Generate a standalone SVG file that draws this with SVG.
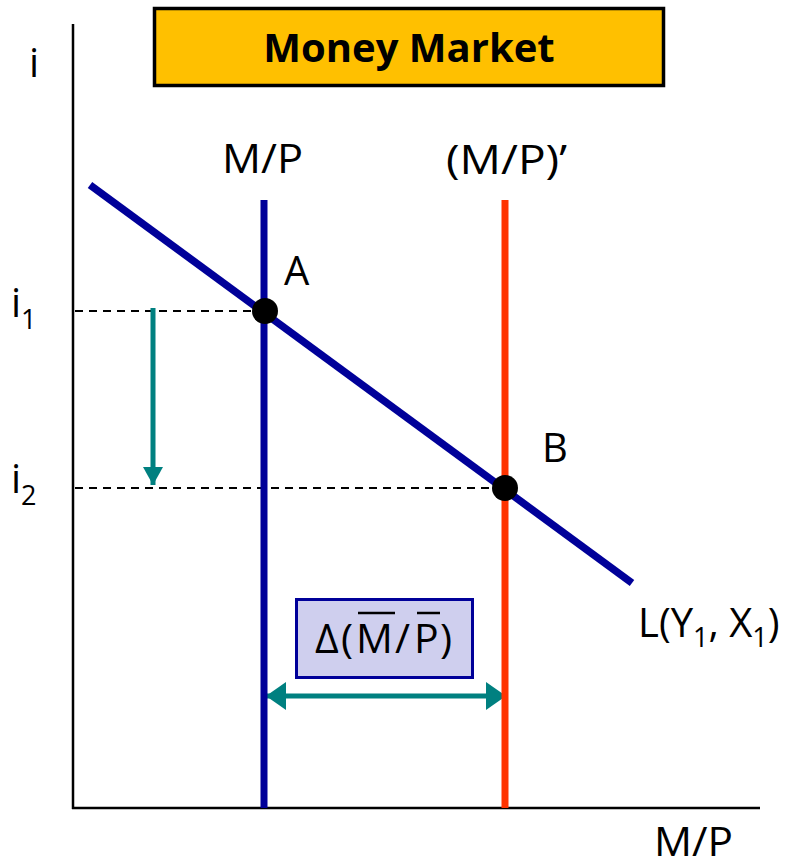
<svg xmlns="http://www.w3.org/2000/svg" width="790" height="868" viewBox="0 0 790 868">
<style>
.t{font-family:"Open Sans","Liberation Sans",sans-serif;font-size:40px;fill:#000}
.sub{font-size:27px}
.axis{stroke:#000;stroke-width:2.5;fill:none}
.dash{stroke:#000;stroke-width:2.2;stroke-dasharray:8 6;fill:none}
.teal{stroke:#008080;stroke-width:5;fill:none}
.ovl{stroke:#000;stroke-width:2.5}
</style>
<defs>
<marker id="ah" viewBox="0 0 20 28" refX="20" refY="14" markerWidth="20" markerHeight="28" markerUnits="userSpaceOnUse" orient="auto-start-reverse">
<path d="M0,0 L20,14 L0,28 Z" fill="#008080"/>
</marker>
<marker id="ahs" viewBox="0 0 18 20" refX="18" refY="10" markerWidth="18" markerHeight="20" markerUnits="userSpaceOnUse" orient="auto">
<path d="M0,0 L18,10 L0,20 Z" fill="#008080"/>
</marker>
</defs>
<rect width="790" height="868" fill="#fff"/>
<g id="title">
<rect x="154.5" y="8.5" width="509" height="77" fill="#FFC000" stroke="#000" stroke-width="3.5"/>
<text x="409" y="62" text-anchor="middle" class="t" style="font-weight:bold;font-size:40px">Money Market</text>
</g>
<g id="axes">
<line class="axis" x1="73" y1="24" x2="73" y2="809"/>
<line class="axis" x1="72" y1="808" x2="760" y2="808"/>
<text class="t" x="29" y="77">i</text>
<text class="t" x="654" y="856" textLength="79" lengthAdjust="spacingAndGlyphs">M/P</text>
<text class="t" x="11" y="317">i<tspan class="sub" dy="12">1</tspan></text>
<text class="t" x="11" y="493">i<tspan class="sub" dy="12">2</tspan></text>
</g>
<g id="connectors">
<line class="dash" x1="75" y1="311" x2="262" y2="311"/>
<line class="dash" x1="75" y1="488" x2="503" y2="488"/>
<line class="teal" x1="153" y1="308" x2="153" y2="485" marker-end="url(#ahs)"/>
<line class="teal" x1="266" y1="696" x2="506" y2="696" marker-start="url(#ah)" marker-end="url(#ah)"/>
</g>
<g id="supply1">
<line x1="264" y1="200" x2="264" y2="808" stroke="#000099" stroke-width="7"/>
<text class="t" x="222" y="173" textLength="81" lengthAdjust="spacingAndGlyphs">M/P</text>
</g>
<g id="supply2">
<line x1="505" y1="200" x2="505" y2="808" stroke="#FF3300" stroke-width="7"/>
<text class="t" x="446" y="174" textLength="121" lengthAdjust="spacingAndGlyphs">(M/P)’</text>
</g>
<g id="demand">
<line x1="90" y1="185" x2="632" y2="583" stroke="#000099" stroke-width="7.5"/>
<text class="t" x="638" y="637">L(Y<tspan class="sub" dy="10">1</tspan><tspan dy="-10">, X</tspan><tspan class="sub" dy="10">1</tspan><tspan dy="-10">)</tspan></text>
</g>
<g id="pointA">
<circle cx="265" cy="311" r="13" fill="#000"/>
<text class="t" x="284" y="285">A</text>
</g>
<g id="pointB">
<circle cx="505" cy="488" r="13" fill="#000"/>
<text class="t" x="542" y="462">B</text>
</g>
<g id="delta">
<rect x="296.5" y="599.5" width="176" height="78" fill="#CFCFEE" stroke="#000099" stroke-width="3"/>
<text class="t" y="653" style="font-size:41px"><tspan x="315">Δ</tspan><tspan x="341">(</tspan><tspan x="356">M</tspan><tspan x="395">/</tspan><tspan x="414">P</tspan><tspan x="440">)</tspan></text>
<line class="ovl" x1="358" y1="613" x2="395" y2="613"/>
<line class="ovl" x1="417" y1="613" x2="440" y2="613"/>
</g>
</svg>
